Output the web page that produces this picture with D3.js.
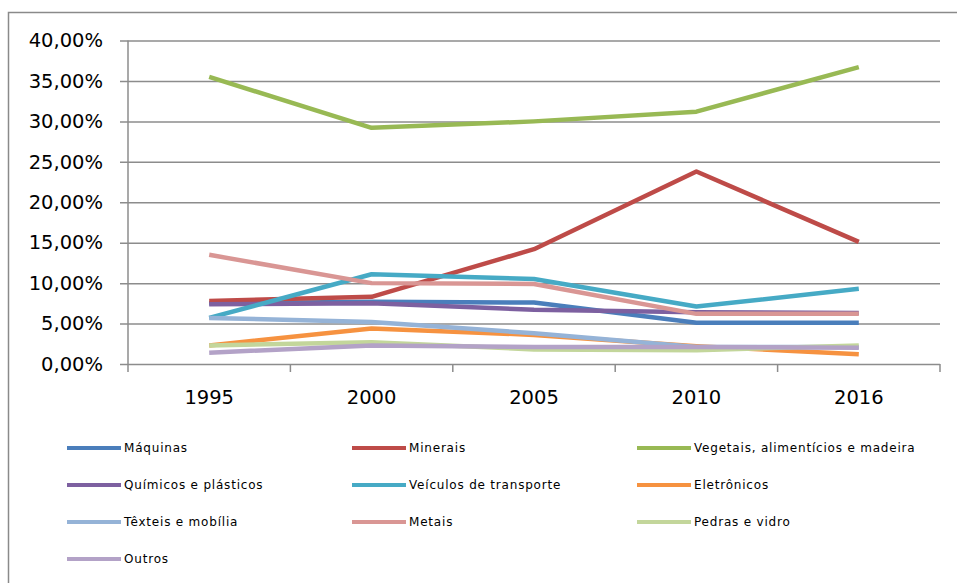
<!DOCTYPE html>
<html>
<head>
<meta charset="utf-8">
<script src="https://cdn.jsdelivr.net/npm/d3@7"></script>
<style>
  body { margin: 0; background: #fff; }
  svg { display: block; }
</style>
</head>
<body>
<svg id="grafico"></svg>
<script>
// dados
const anos = ['1995', '2000', '2005', '2010', '2016'];
const ticksY = [0, 0.05, 0.10, 0.15, 0.20, 0.25, 0.30, 0.35, 0.40];

const maquinas = [0.075, 0.077, 0.076, 0.051, 0.051];
const minerais = [0.078, 0.083, 0.142, 0.238, 0.151];
const vegetais = [0.355, 0.292, 0.300, 0.312, 0.367];
const quimicos = [0.074, 0.075, 0.067, 0.064, 0.063];
const veiculos = [0.057, 0.111, 0.105, 0.071, 0.093];
const eletronicos = [0.023, 0.044, 0.036, 0.022, 0.012];
const texteis = [0.057, 0.052, 0.038, 0.021, 0.021];
const metais = [0.135, 0.100, 0.099, 0.062, 0.062];
const pedras = [0.023, 0.027, 0.018, 0.017, 0.023];
const outros = [0.014, 0.023, 0.021, 0.021, 0.020];

const series = [
  { nome: 'Máquinas', valores: maquinas, cor: '#4a7ebb' },
  { nome: 'Minerais', valores: minerais, cor: '#be4b48' },
  { nome: 'Vegetais, alimentícios e madeira', valores: vegetais, cor: '#98b954' },
  { nome: 'Químicos e plásticos', valores: quimicos, cor: '#7d60a0' },
  { nome: 'Veículos de transporte', valores: veiculos, cor: '#46aac5' },
  { nome: 'Eletrônicos', valores: eletronicos, cor: '#f69240' },
  { nome: 'Têxteis e mobília', valores: texteis, cor: '#95b3d7' },
  { nome: 'Metais', valores: metais, cor: '#d99694' },
  { nome: 'Pedras e vidro', valores: pedras, cor: '#c3d69b' },
  { nome: 'Outros', valores: outros, cor: '#b3a2c7' }
];

const largura = 957, altura = 583;
const esq = 128, dir = 940, topo = 40.5, base = 364;

let svg = d3.select('#grafico')
  .attr('width', largura)
  .attr('height', altura);

// moldura
svg.append('rect')
  .attr('x', 8.5).attr('y', 12.5)
  .attr('width', 970).attr('height', 600)
  .attr('fill', 'none')
  .attr('stroke', '#8a8a8a')
  .attr('stroke-width', 1.5);

// formato com vírgula decimal
const locale = d3.formatLocale({ decimal: ',', thousands: '.', grouping: [3], currency: ['R$', ''] });
const fmt = locale.format('.2%');

let fnX = d3.scaleBand().domain(anos).range([esq, dir]);
let fnY = d3.scaleLinear().domain([0, 0.40]).range([base, topo]);

// eixo y com linhas de grade
let eixoY = svg.append('g')
  .attr('transform', `translate(${esq},0)`)
  .call(d3.axisLeft(fnY).tickValues(ticksY).tickFormat(fmt)
    .tickSizeInner(-(dir - esq)).tickSizeOuter(0).tickPadding(25));
eixoY.select('.domain').remove();
eixoY.selectAll('.tick line')
  .attr('x1', -8)
  .attr('stroke', '#8c8c8c')
  .attr('stroke-width', 1.5);
eixoY.selectAll('.tick text')
  .attr('font-family', 'DejaVu Sans, Verdana, sans-serif')
  .attr('font-size', 19.5)
  .attr('fill', '#000');

// linha vertical do eixo
svg.append('line')
  .attr('x1', esq).attr('x2', esq)
  .attr('y1', topo).attr('y2', base + 8)
  .attr('stroke', '#8c8c8c').attr('stroke-width', 1.5);

// marcas entre categorias
let limites = anos.map(a => fnX(a)).concat([fnX(anos[anos.length - 1]) + fnX.bandwidth()]);
svg.selectAll('.marcaX')
  .data(limites.slice(1))
  .enter()
  .append('line')
  .classed('marcaX', true)
  .attr('x1', d => d).attr('x2', d => d)
  .attr('y1', base).attr('y2', base + 8)
  .attr('stroke', '#8c8c8c').attr('stroke-width', 1.5);

// rótulos do eixo x
let eixoX = svg.append('g')
  .attr('transform', `translate(0,${base})`)
  .call(d3.axisBottom(fnX).tickSize(0).tickPadding(26));
eixoX.select('.domain').remove();
eixoX.selectAll('.tick text')
  .attr('font-family', 'DejaVu Sans, Verdana, sans-serif')
  .attr('font-size', 19.5)
  .attr('fill', '#000');

// linhas das séries
let linha = d3.line()
  .x((d, i) => fnX(anos[i]) + fnX.bandwidth() / 2)
  .y(d => fnY(d));

svg.selectAll('.serie')
  .data(series)
  .enter()
  .append('path')
  .classed('serie', true)
  .attr('d', d => linha(d.valores))
  .attr('fill', 'none')
  .attr('stroke', d => d.cor)
  .attr('stroke-width', 4.5)
  .attr('stroke-linejoin', 'round');

// legenda
let legenda = svg.selectAll('.legenda')
  .data(series)
  .enter()
  .append('g')
  .classed('legenda', true)
  .attr('transform', (d, i) => `translate(${67 + (i % 3) * 285},${448 + Math.floor(i / 3) * 37})`);

legenda.append('line')
  .attr('x1', 0).attr('x2', 54)
  .attr('stroke', d => d.cor)
  .attr('stroke-width', 4);

legenda.append('text')
  .text(d => d.nome)
  .attr('x', 57)
  .attr('dy', '0.35em')
  .attr('font-family', 'DejaVu Sans, sans-serif')
  .attr('font-size', 12)
  .attr('letter-spacing', 0.8)
  .attr('fill', '#000');
</script>
</body>
</html>
